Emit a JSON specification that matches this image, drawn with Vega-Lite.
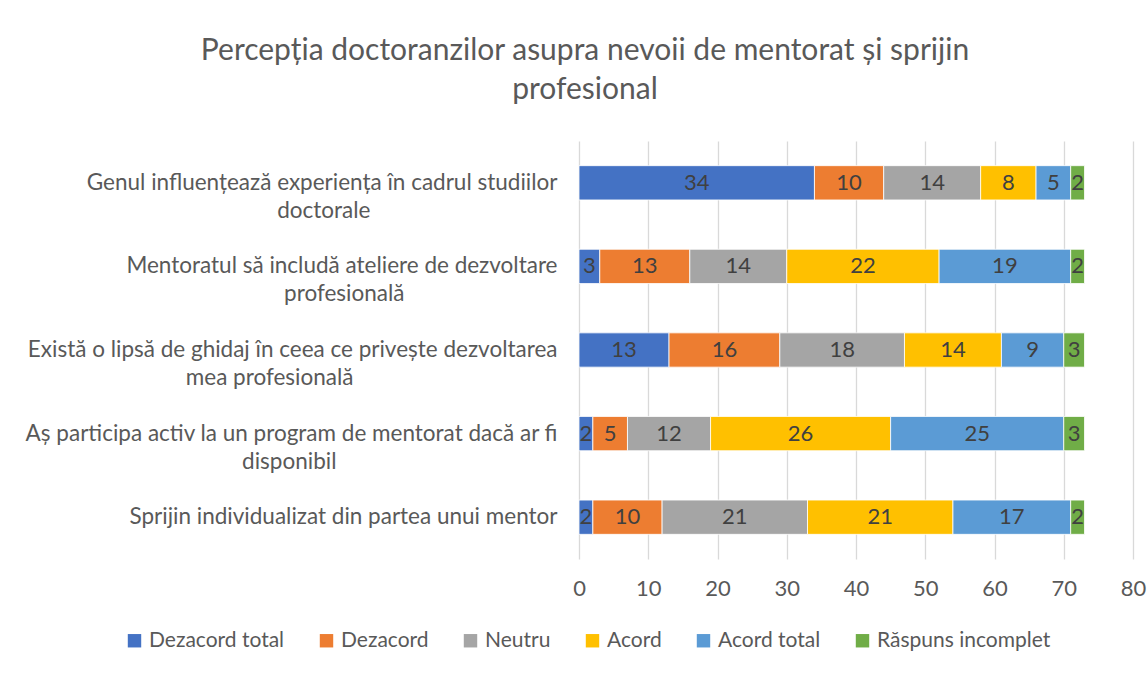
{
  "$schema": "https://vega.github.io/schema/vega-lite/v6.json",
  "width": 554,
  "height": 418,
  "autosize": {"type": "none"},
  "padding": {"left": 579, "top": 141, "right": 14, "bottom": 116},
  "background": "white",
  "config": {"view": {"stroke": null}, "font": "Lato"},
  "title": {
    "text": ["Percepția doctoranzilor asupra nevoii de mentorat și sprijin", "profesional"],
    "fontSize": 30,
    "font": "Lato",
    "fontWeight": "normal",
    "color": "#595959",
    "anchor": "middle",
    "dx": -271,
    "offset": 36,
    "lineHeight": 39
  },
  "data": {
    "values": [
      {"cat": "Genul influențează experiența în cadrul studiilor doctorale", "series": "Dezacord total", "idx": 1, "value": 34},
      {"cat": "Genul influențează experiența în cadrul studiilor doctorale", "series": "Dezacord", "idx": 2, "value": 10},
      {"cat": "Genul influențează experiența în cadrul studiilor doctorale", "series": "Neutru", "idx": 3, "value": 14},
      {"cat": "Genul influențează experiența în cadrul studiilor doctorale", "series": "Acord", "idx": 4, "value": 8},
      {"cat": "Genul influențează experiența în cadrul studiilor doctorale", "series": "Acord total", "idx": 5, "value": 5},
      {"cat": "Genul influențează experiența în cadrul studiilor doctorale", "series": "Răspuns incomplet", "idx": 6, "value": 2},
      {"cat": "Mentoratul să includă ateliere de dezvoltare profesională", "series": "Dezacord total", "idx": 1, "value": 3},
      {"cat": "Mentoratul să includă ateliere de dezvoltare profesională", "series": "Dezacord", "idx": 2, "value": 13},
      {"cat": "Mentoratul să includă ateliere de dezvoltare profesională", "series": "Neutru", "idx": 3, "value": 14},
      {"cat": "Mentoratul să includă ateliere de dezvoltare profesională", "series": "Acord", "idx": 4, "value": 22},
      {"cat": "Mentoratul să includă ateliere de dezvoltare profesională", "series": "Acord total", "idx": 5, "value": 19},
      {"cat": "Mentoratul să includă ateliere de dezvoltare profesională", "series": "Răspuns incomplet", "idx": 6, "value": 2},
      {"cat": "Există o lipsă de ghidaj în ceea ce privește dezvoltarea mea profesională", "series": "Dezacord total", "idx": 1, "value": 13},
      {"cat": "Există o lipsă de ghidaj în ceea ce privește dezvoltarea mea profesională", "series": "Dezacord", "idx": 2, "value": 16},
      {"cat": "Există o lipsă de ghidaj în ceea ce privește dezvoltarea mea profesională", "series": "Neutru", "idx": 3, "value": 18},
      {"cat": "Există o lipsă de ghidaj în ceea ce privește dezvoltarea mea profesională", "series": "Acord", "idx": 4, "value": 14},
      {"cat": "Există o lipsă de ghidaj în ceea ce privește dezvoltarea mea profesională", "series": "Acord total", "idx": 5, "value": 9},
      {"cat": "Există o lipsă de ghidaj în ceea ce privește dezvoltarea mea profesională", "series": "Răspuns incomplet", "idx": 6, "value": 3},
      {"cat": "Aș participa activ la un program de mentorat dacă ar fi disponibil", "series": "Dezacord total", "idx": 1, "value": 2},
      {"cat": "Aș participa activ la un program de mentorat dacă ar fi disponibil", "series": "Dezacord", "idx": 2, "value": 5},
      {"cat": "Aș participa activ la un program de mentorat dacă ar fi disponibil", "series": "Neutru", "idx": 3, "value": 12},
      {"cat": "Aș participa activ la un program de mentorat dacă ar fi disponibil", "series": "Acord", "idx": 4, "value": 26},
      {"cat": "Aș participa activ la un program de mentorat dacă ar fi disponibil", "series": "Acord total", "idx": 5, "value": 25},
      {"cat": "Aș participa activ la un program de mentorat dacă ar fi disponibil", "series": "Răspuns incomplet", "idx": 6, "value": 3},
      {"cat": "Sprijin individualizat din partea unui mentor", "series": "Dezacord total", "idx": 1, "value": 2},
      {"cat": "Sprijin individualizat din partea unui mentor", "series": "Dezacord", "idx": 2, "value": 10},
      {"cat": "Sprijin individualizat din partea unui mentor", "series": "Neutru", "idx": 3, "value": 21},
      {"cat": "Sprijin individualizat din partea unui mentor", "series": "Acord", "idx": 4, "value": 21},
      {"cat": "Sprijin individualizat din partea unui mentor", "series": "Acord total", "idx": 5, "value": 17},
      {"cat": "Sprijin individualizat din partea unui mentor", "series": "Răspuns incomplet", "idx": 6, "value": 2}
    ]
  },
  "encoding": {
    "y": {
      "field": "cat",
      "type": "nominal",
      "sort": [
        "Genul influențează experiența în cadrul studiilor doctorale",
        "Mentoratul să includă ateliere de dezvoltare profesională",
        "Există o lipsă de ghidaj în ceea ce privește dezvoltarea mea profesională",
        "Aș participa activ la un program de mentorat dacă ar fi disponibil",
        "Sprijin individualizat din partea unui mentor"
      ],
      "scale": {"paddingInner": 0.59, "paddingOuter": 0.295},
      "axis": {
        "title": null,
        "domain": false,
        "ticks": false,
        "grid": false,
        "labelAlign": "right",
        "labelBaseline": "middle",
        "labelPadding": 22,
        "labelLineHeight": 28,
        "labelFontSize": 22.5,
        "labelColor": "#595959",
        "labelLimit": 0,
        "labelOverlap": false,
        "labelBound": false,
        "labelExpr": "datum.value == 'Genul influențează experiența în cadrul studiilor doctorale' ? ['Genul influențează experiența în cadrul studiilor', pad('doctorale', 20, '\u2800')] : datum.value == 'Mentoratul să includă ateliere de dezvoltare profesională' ? ['Mentoratul să includă ateliere de dezvoltare', pad('profesională', 21, '\u2800')] : datum.value == 'Există o lipsă de ghidaj în ceea ce privește dezvoltarea mea profesională' ? ['Există o lipsă de ghidaj în ceea ce privește dezvoltarea', pad('mea profesională', 28, '\u2800')] : datum.value == 'Aș participa activ la un program de mentorat dacă ar fi disponibil' ? ['Aș participa activ la un program de mentorat dacă ar fi', pad('disponibil', 23, '\u2800')] : datum.label"
      }
    },
    "x": {
      "field": "value",
      "type": "quantitative",
      "stack": "zero",
      "scale": {"domain": [0, 80]},
      "axis": {
        "title": null,
        "values": [0, 10, 20, 30, 40, 50, 60, 70, 80],
        "grid": true,
        "gridColor": "#d9d9d9",
        "gridWidth": 1.3,
        "domain": false,
        "ticks": false,
        "labelFontSize": 22,
        "labelColor": "#595959",
        "labelPadding": 19,
        "labelFlush": false
      }
    },
    "order": {"field": "idx", "type": "quantitative"}
  },
  "layer": [
    {
      "mark": {"type": "bar", "stroke": "#ffffff", "strokeWidth": 0.8},
      "encoding": {
        "color": {
          "field": "series",
          "type": "nominal",
          "scale": {
            "domain": ["Dezacord total", "Dezacord", "Neutru", "Acord", "Acord total", "Răspuns incomplet"],
            "range": ["#4472C4", "#ED7D31", "#A5A5A5", "#FFC000", "#5B9BD5", "#70AD47"]
          },
          "legend": {
            "orient": "none",
            "legendX": -455,
            "legendY": 489,
            "direction": "horizontal",
            "title": null,
            "symbolType": "square",
            "symbolSize": 180,
            "symbolStrokeWidth": 0,
            "labelFontSize": 21,
            "labelColor": "#595959",
            "columnPadding": 31,
            "labelOffset": 4,
            "labelLimit": 0
          }
        }
      }
    },
    {
      "mark": {"type": "text", "fontSize": 22, "color": "#404040", "baseline": "middle", "align": "center"},
      "encoding": {
        "x": {"field": "value", "type": "quantitative", "stack": "zero", "bandPosition": 0.5},
        "detail": {"field": "series"},
        "text": {"field": "value", "type": "quantitative"}
      }
    }
  ]
}
